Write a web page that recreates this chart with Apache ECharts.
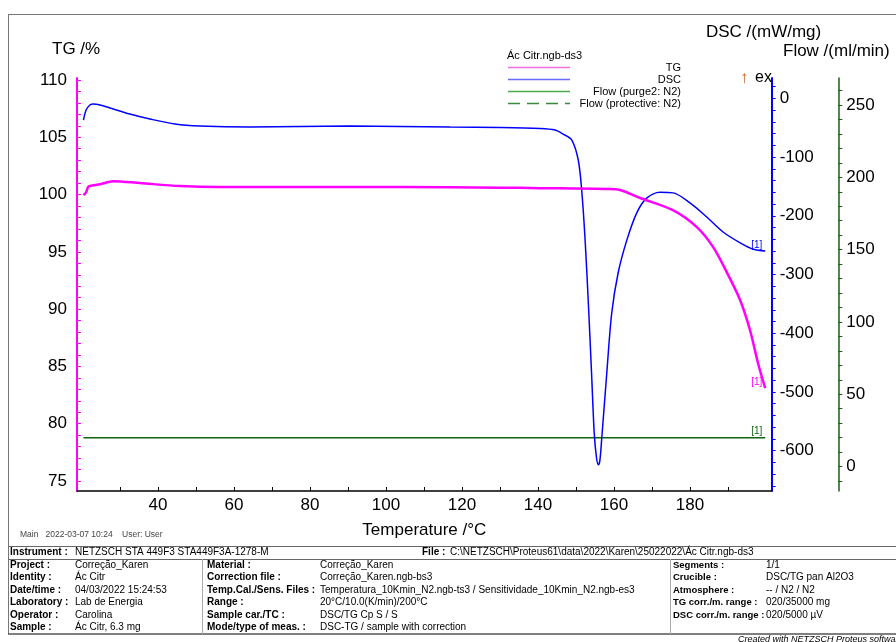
<!DOCTYPE html>
<html>
<head>
<meta charset="utf-8">
<title>Ác Citr.ngb-ds3</title>
<script src="https://cdn.jsdelivr.net/npm/echarts@6/dist/echarts.min.js"></script>
<style>
  html, body { margin: 0; padding: 0; background: #fff; }
  #chart { width: 896px; height: 642px; }
</style>
</head>
<body>
<div id="chart"></div>
<script>
// TG curve (temperature °C, mass %)
const tgTemp = [20.4, 21.1, 21.6, 22.1, 24.8, 28.2, 35.3, 45.8, 56.3, 77.4, 103.7, 130.0, 140.5, 158.2, 161.6, 166.9, 175.5, 181.8, 186.1, 189.8, 193.2, 195.8, 197.9, 199.8]
const tgValues = [99.95, 100.2, 100.65, 100.74, 100.9, 101.17, 101.0, 100.74, 100.65, 100.65, 100.65, 100.6, 100.56, 100.48, 100.39, 99.7, 98.64, 97.16, 95.41, 93.14, 90.78, 88.16, 85.28, 83.1]

// DSC curve (temperature °C, DSC signal)
const dscTemp = [20.4, 21.1, 22.1, 23.0, 24.8, 27.4, 32.6, 37.9, 44.5, 51.1, 64.2, 77.4, 90.5, 103.7, 116.9, 130.0, 140.5, 144.5, 146.6, 148.9, 150.6, 151.5, 152.4, 153.3, 154.1, 154.8, 155.4, 155.9, 156.3, 156.8, 158.1, 159.4, 161.1, 163.4, 166.0, 168.6, 172.1, 175.6, 180.0, 184.4, 188.8, 193.2, 196.7, 199.8]
const dscValues = [-37, -20, -11.4, -9.7, -11.4, -16.5, -26.7, -35.2, -43.8, -47.2, -48.9, -48, -47.2, -48, -48.9, -49.7, -51.4, -54, -60.8, -71, -105, -156, -241, -355, -468, -570, -612, -624, -616, -577, -468, -366, -297, -241, -195, -170, -160, -161, -178, -202, -228, -246, -257, -260]

// Purge gas flow (ml/min)
const flowTemp = [20.4, 199.8]
const flowValues = [20, 20]

// tick marks and labels
const xTicks = [30, 40, 50, 60, 70, 80, 90, 100, 110, 120, 130, 140, 150, 160, 170, 180, 190]
const xLabels = [40, 60, 80, 100, 120, 140, 160, 180]
const tgTicks = [75, 76, 77, 78, 79, 80, 81, 82, 83, 84, 85, 86, 87, 88, 89, 90, 91, 92, 93, 94, 95, 96, 97, 98, 99, 100, 101, 102, 103, 104, 105, 106, 107, 108, 109, 110]
const tgLabels = [75, 80, 85, 90, 95, 100, 105, 110]
const dscTicks = [-660, -640, -620, -600, -580, -560, -540, -520, -500, -480, -460, -440, -420, -400, -380, -360, -340, -320, -300, -280, -260, -240, -220, -200, -180, -160, -140, -120, -100, -80, -60, -40, -20, 0, 20]
const dscLabels = [-600, -500, -400, -300, -200, -100, 0]
const flowTicks = [-10, 0, 10, 20, 30, 40, 50, 60, 70, 80, 90, 100, 110, 120, 130, 140, 150, 160, 170, 180, 190, 200, 210, 220, 230, 240, 250, 260]
const flowLabels = [0, 50, 100, 150, 200, 250]

// info table
const infoCol1 = [['Project :', 'Correção_Karen'], ['Identity :', 'Ác Citr'], ['Date/time :', '04/03/2022 15:24:53'], ['Laboratory :', 'Lab de Energia'], ['Operator :', 'Carolina'], ['Sample :', 'Ác Citr, 6.3 mg']]
const infoCol2 = [['Material :', 'Correção_Karen'], ['Correction file :', 'Correção_Karen.ngb-bs3'], ['Temp.Cal./Sens. Files :', 'Temperatura_10Kmin_N2.ngb-ts3 / Sensitividade_10Kmin_N2.ngb-es3'], ['Range :', '20°C/10.0(K/min)/200°C'], ['Sample car./TC :', 'DSC/TG Cp S / S'], ['Mode/type of meas. :', 'DSC-TG / sample with correction']]
const infoCol3 = [['Segments :', '1/1'], ['Crucible :', 'DSC/TG pan Al2O3'], ['Atmosphere :', '-- / N2 / N2'], ['TG corr./m. range :', '020/35000 mg'], ['DSC corr./m. range :', '020/5000 µV']]

const FONT = 'Liberation Sans, Arial, sans-serif'
const TG_COLOR = '#ff00ff'
const DSC_COLOR = '#0000ff'
const FLOW_COLOR = '#0f640f'

function pairs(xs, ys) {
  return xs.map((x, i) => [x, ys[i]])
}

// "[1]" tag at the end of each curve
function endTag(color) {
  return {
    show: true, formatter: '[1]', distance: 0, offset: [-14, -6],
    color: color, fontSize: 10, fontFamily: FONT
  }
}

function txt(x, y, text, font, fill, align) {
  return {
    type: 'text', x: x, y: y, silent: true,
    style: { text: text, font: font, fill: fill || '#000', align: align || 'left', verticalAlign: 'middle' }
  }
}

function line(x1, y1, x2, y2, color, width, dash) {
  return {
    type: 'line', silent: true,
    shape: { x1: x1, y1: y1, x2: x2, y2: y2 },
    style: { stroke: color, lineWidth: width, lineDash: dash || null }
  }
}

const graphics = []
// outer frame
graphics.push(line(8, 14.5, 896, 14.5, '#777', 1))
graphics.push(line(8.5, 14, 8.5, 634, '#777', 1))
// axis titles
graphics.push(txt(52, 49, 'TG /%', '17px ' + FONT))
graphics.push(txt(706, 32, 'DSC /(mW/mg)', '17px ' + FONT))
graphics.push(txt(783, 51, 'Flow /(ml/min)', '17px ' + FONT))
graphics.push(txt(740, 78, '↑', '17px ' + FONT, '#c0602a'))
graphics.push(txt(755, 78, 'ex', '16px ' + FONT))
// legend
graphics.push(txt(507, 56, 'Ác Citr.ngb-ds3', '11px ' + FONT))
const legendRows = [['TG', '#f070e0', null], ['DSC', '#6a6aff', null], ['Flow (purge2: N2)', '#4ea84e', null], ['Flow (protective: N2)', '#3a8a3a', [12, 7]]]
legendRows.forEach((r, i) => {
  const y = 67.5 + i * 12
  graphics.push(line(508, y, 570, y, r[1], 1.5, r[2]))
  graphics.push(txt(681, y, r[0], '11px ' + FONT, '#000', 'right'))
})
// footer / info table
graphics.push(txt(20, 535, 'Main   2022-03-07 10:24    User: User', '8.5px ' + FONT, '#444'))
graphics.push(line(8, 546.5, 896, 546.5, '#666', 1))
graphics.push(line(8, 559.5, 896, 559.5, '#666', 1))
graphics.push(line(8, 634, 896, 634, '#555', 1.5))
graphics.push(line(202.5, 559, 202.5, 634, '#aaa', 1))
graphics.push(line(670.5, 559, 670.5, 634, '#aaa', 1))
graphics.push(txt(10, 552.5, 'Instrument :', 'bold 10px ' + FONT))
graphics.push(txt(75, 552.5, 'NETZSCH STA 449F3 STA449F3A-1278-M', '10px ' + FONT))
graphics.push(txt(422, 552.5, 'File :', 'bold 10px ' + FONT))
graphics.push(txt(450, 552.5, 'C:\\NETZSCH\\Proteus61\\data\\2022\\Karen\\25022022\\Ác Citr.ngb-ds3', '10px ' + FONT))
const cols = [[infoCol1, 10, 75, 10], [infoCol2, 207, 320, 10], [infoCol3, 673, 766, 9.5]]
cols.forEach(c => {
  c[0].forEach((row, i) => {
    const y = 565 + i * 12.5
    graphics.push(txt(c[1], y, row[0], 'bold ' + c[3] + 'px ' + FONT))
    graphics.push(txt(c[2], y, row[1], '10px ' + FONT))
  })
})
graphics.push(txt(738, 639.5, 'Created with NETZSCH Proteus software', 'italic 9px ' + FONT))

const chart = echarts.init(document.getElementById('chart'))
chart.setOption({
  animation: false,
  backgroundColor: '#fff',
  textStyle: { fontFamily: FONT },
  grid: { left: 77, right: 124.3, top: 78, bottom: 151, outerBoundsMode: 'none' },
  xAxis: {
    type: 'value', min: 18.7, max: 201.5,
    name: 'Temperature /°C', nameLocation: 'middle', nameGap: 31,
    nameTextStyle: { fontSize: 17, color: '#000', fontFamily: FONT },
    axisLine: { onZero: false, lineStyle: { color: '#000', width: 1.5 } },
    axisTick: { inside: true, length: 4, customValues: xTicks, lineStyle: { color: '#000' } },
    axisLabel: { customValues: xLabels, fontSize: 17, margin: 6, color: '#000', fontFamily: FONT },
    splitLine: { show: false }
  },
  yAxis: [
    {
      type: 'value', position: 'left', min: 74.13, max: 110.17,
      axisLine: { show: true, lineStyle: { color: TG_COLOR, width: 2 } },
      axisTick: { show: true, inside: true, length: 4, customValues: tgTicks, lineStyle: { color: TG_COLOR } },
      axisLabel: { customValues: tgLabels, fontSize: 17, margin: 10, color: '#000', fontFamily: FONT },
      splitLine: { show: false }
    },
    {
      type: 'value', position: 'right', offset: 0, min: -668.6, max: 34.6,
      axisLine: { show: true, lineStyle: { color: DSC_COLOR, width: 2 } },
      axisTick: { show: true, length: 4, customValues: dscTicks, lineStyle: { color: DSC_COLOR } },
      axisLabel: { customValues: dscLabels, fontSize: 17, margin: 8, color: '#000', fontFamily: FONT },
      splitLine: { show: false }
    },
    {
      type: 'value', position: 'right', offset: 66.6, min: -16.9, max: 268.7,
      axisLine: { show: true, lineStyle: { color: FLOW_COLOR, width: 1.5 } },
      axisTick: { show: true, length: 4, customValues: flowTicks, lineStyle: { color: FLOW_COLOR } },
      axisLabel: { customValues: flowLabels, fontSize: 17, margin: 8, color: '#000', fontFamily: FONT },
      splitLine: { show: false }
    }
  ],
  series: [
    {
      name: 'Flow (purge2: N2)', type: 'line', yAxisIndex: 2, showSymbol: false,
      data: pairs(flowTemp, flowValues),
      lineStyle: { color: FLOW_COLOR, width: 1.5 },
      endLabel: endTag(FLOW_COLOR)
    },
    {
      name: 'DSC', type: 'line', yAxisIndex: 1, showSymbol: false, smooth: 0.3,
      data: pairs(dscTemp, dscValues),
      lineStyle: { color: DSC_COLOR, width: 1.5 },
      endLabel: endTag(DSC_COLOR)
    },
    {
      name: 'TG', type: 'line', yAxisIndex: 0, showSymbol: false, smooth: 0.3,
      data: pairs(tgTemp, tgValues),
      lineStyle: { color: TG_COLOR, width: 2.5 },
      endLabel: endTag(TG_COLOR)
    }
  ],
  graphic: graphics
})
</script>
</body>
</html>
